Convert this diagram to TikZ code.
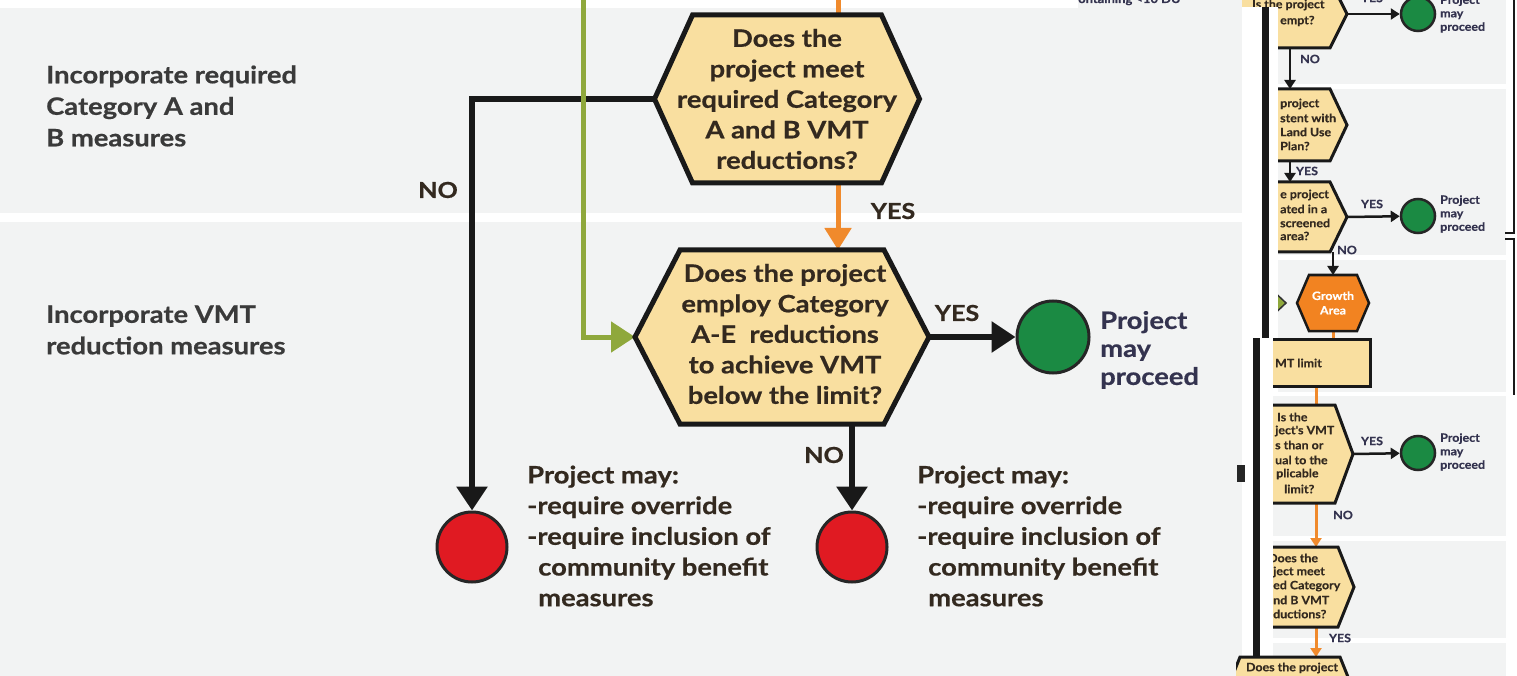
\documentclass[tikz,border=0pt]{standalone}
\usepackage{fontspec}
\setmainfont{Lato}
\newfontfamily\gillish[FakeStretch=1.14, BoldFeatures={FakeBold=0.6}]{Lato}
\newfontfamily\gillsmall[FakeStretch=1.08, BoldFeatures={FakeBold=0.4}]{Lato}
\usetikzlibrary{arrows.meta}
\definecolor{bandgray}{HTML}{F2F3F3}
\definecolor{hexfill}{HTML}{F9DFA0}
\definecolor{orangeline}{HTML}{F08A2C}
\definecolor{olivegreen}{HTML}{8FA83C}
\definecolor{goGreen}{HTML}{1B8A43}
\definecolor{stopRed}{HTML}{E01A22}
\definecolor{inkDark}{HTML}{33291F}
\definecolor{inkGray}{HTML}{3A3A3A}
\definecolor{inkNavy}{HTML}{34334F}
\definecolor{growthOrange}{HTML}{F28321}
\pgfdeclarelayer{bg}
\pgfdeclarelayer{mid}
\pgfsetlayers{bg,mid,main}
\newcommand\drawhex[7]{%
  \coordinate (#1) at (#2,#3);
  \coordinate (#1-w) at ({#2-#4},#3);
  \coordinate (#1-e) at ({#2+#4},#3);
  \coordinate (#1-n) at (#2,{#3-#5});
  \coordinate (#1-s) at (#2,{#3+#5});
  \draw[#7] (#1-w) -- ({#2-#4+#6},{#3-#5}) -- ({#2+#4-#6},{#3-#5}) -- (#1-e)
    -- ({#2+#4-#6},{#3+#5}) -- ({#2-#4+#6},{#3+#5}) -- cycle;
}
\tikzset{
  bigtxt/.style={font=\gillish\fontsize{24}{30.5}\selectfont\bfseries, text=inkDark, align=center, inner sep=0},
  sidetxt/.style={font=\gillish\fontsize{24}{31.5}\selectfont\bfseries, text=inkGray, align=left, inner sep=0, anchor=west},
  notetxt/.style={font=\gillish\fontsize{24}{30.7}\selectfont\bfseries, text=inkDark, align=left, inner sep=0, anchor=west},
  proceedtxt/.style={font=\gillish\fontsize{24}{28}\selectfont\bfseries, text=inkNavy, align=left, inner sep=0, anchor=west},
  bigyn/.style={font=\gillish\fontsize{22}{22}\selectfont\bfseries, text=inkDark, inner sep=0},
  smalltxt/.style={font=\gillsmall\fontsize{11.5}{14}\selectfont\bfseries, text=inkDark, inner sep=0, anchor=west},
  smallyn/.style={font=\gillsmall\fontsize{11.5}{14}\selectfont\bfseries, text=inkNavy, inner sep=0},
  smallproceed/.style={font=\gillsmall\fontsize{11.5}{13.5}\selectfont\bfseries, text=inkNavy, align=left, inner sep=0, anchor=west},
  bighex/.style={fill=hexfill, draw=black!90, line width=5pt},
  smallhex/.style={fill=hexfill, draw=black!90, line width=3pt},
  growthhex/.style={fill=growthOrange, draw=black!90, line width=2.5pt},
  mainarrow/.style={draw=black!90, line width=6pt, -{Triangle[length=24pt,width=30pt]}},
  orangearrow/.style={draw=orangeline, line width=5pt, -{Triangle[length=22pt,width=26pt]}},
  greenarrow/.style={draw=olivegreen, line width=5pt, -{Triangle[length=24pt,width=30pt]}},
  sarrow/.style={draw=black!90, line width=2.5pt, -{Triangle[length=9pt,width=11pt]}},
  sorange/.style={draw=orangeline, line width=3pt},
  sorangearrow/.style={draw=orangeline, line width=3pt, -{Triangle[length=9pt,width=11pt]}},
  gocirc/.style={circle, fill=goGreen, draw=black!85, line width=3pt, minimum size=72pt, inner sep=0},
  stopcirc/.style={circle, fill=stopRed, draw=black!85, line width=3pt, minimum size=70pt, inner sep=0},
  smallgo/.style={circle, fill=goGreen, draw=black!85, line width=2.5pt, minimum size=34pt, inner sep=0},
}
\begin{document}
\begin{tikzpicture}[x=1pt,y=-1pt]
\path[use as bounding box] (0,0) rectangle (1517,676);
\clip (0,0) rectangle (1517,676);
\begin{pgfonlayer}{bg}
  \fill[bandgray] (0,8) rectangle (1242,213);
  \fill[bandgray] (1078,0) rectangle (1242,8);
  \fill[bandgray] (0,222) rectangle (1242,676);
  \fill[bandgray] (1278,0) rectangle (1506,84);
  \fill[bandgray] (1278,89) rectangle (1506,255);
  \fill[bandgray] (1278,260) rectangle (1506,392);
  \fill[bandgray] (1273,396) rectangle (1506,536);
  \fill[bandgray] (1273,541) rectangle (1506,638);
  \fill[bandgray] (1273,643) rectangle (1506,676);
\end{pgfonlayer}

% ---------- main chart ----------
\node[font=\gillsmall\fontsize{12}{12}\selectfont\bfseries, text=inkNavy, inner sep=0, anchor=base west] (cut) at (1078,3) {ontaining <10 DU};
\node[sidetxt] (lab1) at (46,106) {Incorporate required\\Category A and\\B measures};
\node[sidetxt] (lab2) at (46,330) {Incorporate VMT\\reduction measures};

\drawhex{h1}{787}{99}{132.5}{84}{38}{bighex}
\node[bigtxt] (h1t) at (787,99) {Does the\\project meet\\required Category\\A and B VMT\\reductions?};
\drawhex{h2}{782}{337}{147}{87}{45}{bighex}
\node[bigtxt] (h2t) at (785,334) {Does the project\\employ Category\\A-E\ \ reductions\\to achieve VMT\\below the limit?};

\node[gocirc] (gc) at (1053,337) {};
\node[stopcirc] (r1) at (472,547) {};
\node[stopcirc] (r2) at (852,547) {};

\coordinate (gtop) at (583,0);
\coordinate (otop) at (838,0);

\begin{pgfonlayer}{mid}
  \draw[mainarrow] (h1-w) -| (r1);
  \draw[greenarrow] (gtop) |- (h2-w);
  \draw[draw=orangeline, line width=5pt] (otop) -- (otop |- h1-n);
  \draw[orangearrow] (otop |- h1-s) -- (otop |- h2-n);
  \draw[mainarrow] (h2-e) -- (gc);
  \draw[mainarrow] (r2 |- h2-s) -- (r2);
\end{pgfonlayer}

\node[bigyn] (no1) at (438,190) {NO};
\node[bigyn] (yes1) at (893,211) {YES};
\node[bigyn] (yes2) at (957,313) {YES};
\node[bigyn] (no2) at (824,455) {NO};

\node[proceedtxt] (pm) at (1100,350) {Project\\may\\proceed};
\node[notetxt] (n1) at (527,536) {Project may:\\-require override\\-require inclusion of\\\hspace*{11pt}community benefit\\\hspace*{11pt}measures};
\node[notetxt] (n2) at (917,536) {Project may:\\-require override\\-require inclusion of\\\hspace*{11pt}community benefit\\\hspace*{11pt}measures};

% ---------- right-hand fragment ----------
\begin{scope}
\clip (1242,-10) rectangle (1520,690);
\drawhex{ex}{1290}{14}{57}{34}{17}{smallhex}
\node[smalltxt] (ext1) at (1252,5) {Is the project};
\node[smalltxt] (ext2) at (1280,21) {empt?};
\node[smallgo] (gc0) at (1418,14) {};
\node[smallproceed] (p0) at (1440,14) {Project\\may\\proceed};
\node[smallyn] (y0) at (1372,-2) {YES};

\drawhex{co}{1290}{125}{57}{36}{17}{smallhex}
\node[smalltxt] at (1280,104) {project};
\node[smalltxt] at (1280,118) {stent with};
\node[smalltxt] at (1280,132) {Land Use};
\node[smalltxt] at (1280,146) {Plan?};

\drawhex{sc}{1290}{217}{57}{35}{17}{smallhex}
\node[smalltxt] at (1280,195) {e project};
\node[smalltxt] at (1280,209) {ated in a};
\node[smalltxt] at (1280,223) {screened};
\node[smalltxt] at (1280,236) {area?};
\node[smallgo] (gc1) at (1418,216) {};
\node[smallproceed] (p1) at (1440,214) {Project\\may\\proceed};

\drawhex{gr}{1333}{303}{36}{28}{12}{growthhex}
\node[font=\gillsmall\fontsize{11.5}{14.5}\selectfont\bfseries, text=white, align=center, inner sep=0] (grt) at (1333,303) {Growth\\Area};
\fill[olivegreen, draw=black!80, line width=1.5pt] (1268,286) -- (1286,303) -- (1268,320) -- cycle;

\node[fill=hexfill, draw=black!90, line width=3pt, minimum width=130pt, minimum height=47pt, inner sep=0] (vb) at (1305,362.5) {};
\node[smalltxt] at (1275,363) {MT limit};

\drawhex{vm}{1290}{454}{63}{49}{18}{smallhex}
\node[smalltxt] at (1277,417) {Is the};
\node[smalltxt] at (1275,431) {ject's VMT};
\node[smalltxt] at (1275,445) {s than or};
\node[smalltxt] at (1275,460) {ual to the};
\node[smalltxt] at (1276,474) {plicable};
\node[smalltxt] at (1284,489) {limit?};
\node[smallgo] (gc2) at (1418,453) {};
\node[smallproceed] (p2) at (1440,452) {Project\\may\\proceed};

\drawhex{rq}{1290}{587}{64}{40}{16}{smallhex}
\node[smalltxt] at (1268,558) {Does the};
\node[smalltxt] at (1273,572) {ject meet};
\node[smalltxt] at (1273,586) {ed Category};
\node[smalltxt] at (1273,600) {nd B VMT};
\node[smalltxt] at (1273,614) {ductions?};
\end{scope}

\coordinate (oc) at (1316,0);
\begin{pgfonlayer}{mid}
  \draw[sarrow] (ex-e) -- (gc0);
  \draw[sarrow] (ex-s) -- (co-n);
  \draw[sarrow] (co-s) -- (sc-n);
  \draw[sarrow] (sc-e) -- (gc1);
  \draw[sarrow] (gr-n |- sc-s) -- (gr-n);
  \draw[sorange] (gr-s) -- (gr-s |- vb.north);
  \draw[sorange] (oc |- vb.south) -- (oc |- vm-n);
  \draw[sarrow] (vm-e) -- (gc2);
  \draw[sorangearrow] (oc |- vm-s) -- (oc |- rq-n);
\end{pgfonlayer}

\node[smallyn] at (1310,59) {NO};
\node[smallyn] at (1307,171) {YES};
\node[smallyn] at (1372,204) {YES};
\node[smallyn] at (1347,250) {NO};
\node[smallyn] at (1372,441) {YES};
\node[smallyn] at (1343,515) {NO};
\node[smallyn] at (1340,638) {YES};

% white cut columns and the long black rails
\fill[white] (1242,7) rectangle (1278,338);
\fill[white] (1242,338) rectangle (1273,676);
\draw[black!90, line width=7pt] (1265.5,7) -- (1265.5,338);
\draw[black!90, line width=7pt] (1256.5,338) -- (1256.5,676);
\fill[black!85] (1237,465) rectangle (1245,482);

% bottom hexagon (pasted on top)
\begin{scope}
\clip (1236,640) rectangle (1520,690);
\drawhex{bt}{1290}{697}{66}{40}{16}{smallhex}
\end{scope}
\node[smalltxt, anchor=center] (btt) at (1292,668) {Does the project};
\begin{pgfonlayer}{mid}
  \draw[sorangearrow] (oc |- rq-s) -- (oc |- bt-n);
\end{pgfonlayer}

% right bracket
\draw[black!90, line width=2.5pt] (1514,0) -- (1514,233) -- (1505,233);
\draw[black!90, line width=2.5pt] (1505,239) -- (1514,239) -- (1514,395);
\end{tikzpicture}
\end{document}
